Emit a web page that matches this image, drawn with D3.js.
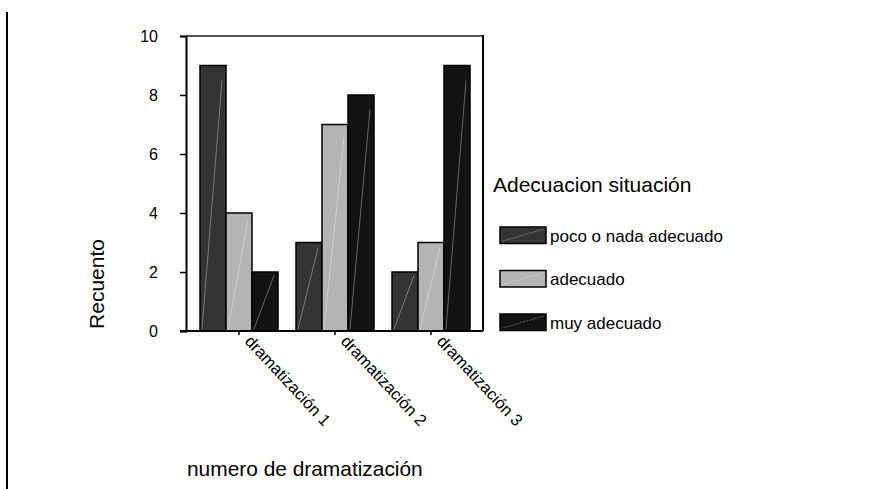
<!DOCTYPE html>
<html>
<head>
<meta charset="utf-8">
<script src="https://cdn.jsdelivr.net/npm/d3@7"></script>
<style>
  body { margin: 0; background: #fff; }
  svg { display: block; font-family: "Liberation Sans", Arial, sans-serif; }
</style>
</head>
<body>
<script>
const categories = ["dramatización 1", "dramatización 2", "dramatización 3"];
const series = ["poco o nada adecuado", "adecuado", "muy adecuado"];
const seriesColors = ["#353535", "#b4b4b4", "#131313"];
const pocoValues = [9, 3, 2];
const adecuadoValues = [4, 7, 3];
const muyValues = [2, 8, 9];
const yTicks = [0, 2, 4, 6, 8, 10];

const values = [pocoValues, adecuadoValues, muyValues];
const rows = categories.map((c, i) => ({
  cat: c,
  vals: series.map((s, j) => ({ key: s, j: j, v: values[j][i] }))
}));

const width = 885, height = 489;
const plot = { left: 186, right: 483, top: 36, bottom: 331 };

const svg = d3.select("body").append("svg")
  .attr("width", width)
  .attr("height", height);

// page border line on the left
svg.append("line")
  .attr("x1", 7).attr("x2", 7)
  .attr("y1", 12).attr("y2", height)
  .attr("stroke", "#000")
  .attr("stroke-width", 2);

const y = d3.scaleLinear().domain([0, 10]).range([plot.bottom, plot.top]);

const x0 = d3.scaleBand()
  .domain(categories)
  .range([191, 479])
  .paddingInner(0.1875)
  .paddingOuter(0.09375);

const x1 = d3.scaleBand()
  .domain(series)
  .range([0, x0.bandwidth()]);

// frame: top and right
svg.append("line")
  .attr("x1", plot.left).attr("x2", plot.right)
  .attr("y1", plot.top).attr("y2", plot.top)
  .attr("stroke", "#555").attr("stroke-width", 2);
svg.append("line")
  .attr("x1", plot.right).attr("x2", plot.right)
  .attr("y1", plot.top - 1).attr("y2", plot.bottom)
  .attr("stroke", "#000").attr("stroke-width", 2);

// bars
const groups = svg.append("g")
  .selectAll("g")
  .data(rows)
  .join("g")
  .attr("transform", (d) => "translate(" + x0(d.cat) + ",0)");

groups.selectAll("rect")
  .data((d) => d.vals)
  .join("rect")
  .attr("x", (d) => x1(d.key))
  .attr("y", (d) => y(d.v))
  .attr("width", x1.bandwidth())
  .attr("height", (d) => y(0) - y(d.v))
  .attr("fill", (d) => seriesColors[d.j])
  .attr("stroke", "#000")
  .attr("stroke-width", 1.5);

// faint diagonal hatch line inside every bar
groups.selectAll("line.diag")
  .data((d) => d.vals)
  .join("line")
  .attr("class", "diag")
  .attr("x1", (d) => x1(d.key) + 2)
  .attr("y1", y(0) - 2)
  .attr("x2", (d) => x1(d.key) + x1.bandwidth() - 4)
  .attr("y2", (d) => y(d.v) + Math.min(15, (y(0) - y(d.v)) * 0.06))
  .attr("stroke", "#fff")
  .attr("stroke-opacity", 0.35)
  .attr("stroke-width", 1);

// y axis
const yAxis = svg.append("g")
  .attr("transform", "translate(" + plot.left + ",0)")
  .call(d3.axisLeft(y).tickValues(yTicks).tickSize(6).tickPadding(22).tickFormat(d3.format("d")));
yAxis.attr("font-size", null).attr("font-family", null);
yAxis.select(".domain").attr("stroke", "#000").attr("stroke-width", 2);
yAxis.selectAll(".tick line").attr("stroke", "#000").attr("stroke-width", 1.5);
yAxis.selectAll("text").style("font-size", "16px").attr("fill", "#000");

// x axis
const xAxis = svg.append("g")
  .attr("transform", "translate(0," + plot.bottom + ")")
  .call(d3.axisBottom(x0).tickSize(4).tickSizeOuter(0));
xAxis.attr("font-size", null).attr("font-family", null);
xAxis.select(".domain")
  .attr("d", "M180,0H" + plot.right)
  .attr("stroke", "#000").attr("stroke-width", 2);
xAxis.selectAll(".tick line").attr("stroke", "#000").attr("stroke-width", 1.5);
xAxis.selectAll("text")
  .style("font-size", "16.5px")
  .attr("fill", "#000")
  .attr("text-anchor", "start")
  .attr("dy", null)
  .attr("y", 0)
  .attr("x", 0)
  .attr("transform", "translate(5,11) rotate(47)");

// axis titles
svg.append("text")
  .attr("transform", "translate(104,284) rotate(-90)")
  .attr("text-anchor", "middle")
  .style("font-size", "21px")
  .text("Recuento");

svg.append("text")
  .attr("x", 187)
  .attr("y", 476)
  .style("font-size", "20.9px")
  .text("numero de dramatización");

// legend
const legend = svg.append("g");
legend.append("text")
  .attr("x", 493)
  .attr("y", 192)
  .style("font-size", "21px")
  .text("Adecuacion situación");

const items = legend.selectAll("g.item")
  .data(series)
  .join("g")
  .attr("class", "item")
  .attr("transform", (d, i) => "translate(500," + (227 + i * 43.5) + ")");

items.append("rect")
  .attr("width", 46)
  .attr("height", 16.5)
  .attr("fill", (d, i) => seriesColors[i])
  .attr("stroke", "#000")
  .attr("stroke-width", 1.5);

items.append("line")
  .attr("x1", 3).attr("y1", 14)
  .attr("x2", 44).attr("y2", 2)
  .attr("stroke", "#fff")
  .attr("stroke-opacity", 0.35)
  .attr("stroke-dasharray", "2,1");

items.append("text")
  .attr("x", 50)
  .attr("y", 14.5)
  .style("font-size", "17px")
  .text((d) => d);
</script>
</body>
</html>
